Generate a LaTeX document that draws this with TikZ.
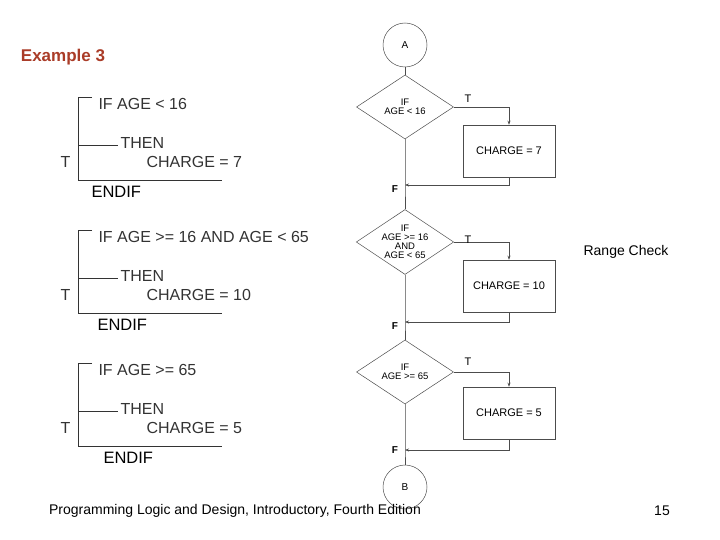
\documentclass[tikz,border=0pt]{standalone}
\usepackage{fontspec}
\setmainfont{Liberation Sans}
\usetikzlibrary{shapes.geometric,arrows.meta}
\begin{document}
\begin{tikzpicture}[x=1pt,y=-1pt,
  flow/.style={draw=black!70,line width=0.5pt},
  dec/.style={flow,diamond,aspect=1.5,minimum width=97,minimum height=64,inner sep=0pt,font=\fontsize{9.5}{9}\selectfont,align=center},
  act/.style={flow,rectangle,minimum width=92,minimum height=52,font=\fontsize{11}{11}\selectfont},
  conn/.style={flow,circle,minimum size=44,font=\fontsize{10}{10}\selectfont},
  arr/.style={flow,-{Stealth[length=4pt,width=3pt]}},
  code/.style={font=\fontsize{16}{16}\selectfont,anchor=west,text=black!80},
  lbl/.style={font=\fontsize{11}{11}\selectfont}]
  \useasboundingbox (0,0) rectangle (720,540);
  \node[font=\bfseries\fontsize{17}{17}\selectfont,text={rgb,255:red,170;green,60;blue,40}] (title) at (63,57) {Example 3};
  % flowchart
  \node[conn] (A) at (405,45) {A};
  \node[dec] (d1) at (405,107) {IF\\AGE < 16};
  \node[act] (b1) at (509,151) {CHARGE = 7};
  \node[dec] (d2) at (405,242) {IF\\AGE >= 16\\AND\\AGE < 65};
  \node[act] (b2) at (509,286) {CHARGE = 10};
  \node[dec] (d3) at (405,372) {IF\\AGE >= 65};
  \node[act] (b3) at (509,413) {CHARGE = 5};
  \node[conn] (B) at (405,487) {B};
  \coordinate (j1) at (405,185);
  \coordinate (j2) at (405,322);
  \coordinate (j3) at (405,450);
  \draw[flow] (A) -- (d1) -- (j1) -- (d2) -- (j2) -- (d3) -- (j3) -- (B);
  \draw[arr] (d1.east) -| (b1.north);
  \draw[arr] (d2.east) -| (b2.north);
  \draw[arr] (d3.east) -| (b3.north);
  \draw[arr] (b1.south) |- (j1);
  \draw[arr] (b2.south) |- (j2);
  \draw[arr] (b3.south) |- (j3);
  \node[lbl] (t1) at (468,99) {T};
  \node[lbl] (t2) at (468,240) {T};
  \node[lbl] (t3) at (468,362) {T};
  \node[lbl,font=\bfseries\fontsize{10}{10}\selectfont] (f1) at (395,189) {F};
  \node[lbl,font=\bfseries\fontsize{10}{10}\selectfont] (f2) at (395,326) {F};
  \node[lbl,font=\bfseries\fontsize{10}{10}\selectfont] (f3) at (395,450) {F};
  \node[font=\fontsize{14}{14}\selectfont] (range) at (626,252) {Range Check};
  % pseudocode
  \foreach \dy/\cond/\val/\ex in {0/< 16/7/88, 133/>= 16 AND AGE < 65/10/94, 266/>= 65/5/100} {
    \draw[flow,black!80] (92,97+\dy) -- (78,97+\dy) -- (78,180+\dy) -- (222,180+\dy);
    \draw[flow,black!80] (78,145+\dy) -- (118,145+\dy);
    \node[code] at (95,104+\dy) {IF AGE \cond};
    \node[code] at (117,143+\dy) {THEN};
    \node[code] at (143,162+\dy) {CHARGE = \val};
    \node[code] at (57,162+\dy) {T};
    \node[font=\fontsize{16.5}{16.5}\selectfont,anchor=west] at (\ex,192+\dy) {ENDIF};
  }
  % footer
  \node[font=\fontsize{14}{14}\selectfont] (src) at (235,511) {Programming Logic and Design, Introductory, Fourth Edition};
  \node[font=\fontsize{14}{14}\selectfont] (page) at (662,511) {15};
\end{tikzpicture}
\end{document}
